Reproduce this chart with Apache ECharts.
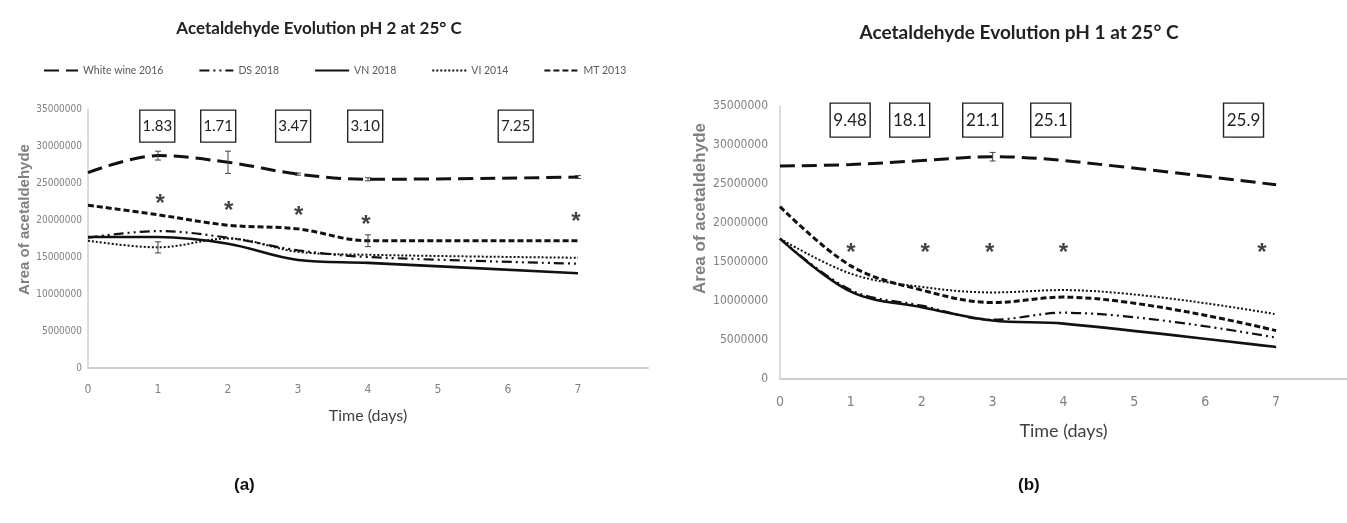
<!DOCTYPE html>
<html lang="en">
<head>
    <meta charset="UTF-8">
    <title>Acetaldehyde Evolution</title>
    <style>
        body { margin: 0; background: #fff; }
        #chart { width: 1347px; height: 523px; }
    </style>
    <script src="https://cdn.jsdelivr.net/npm/echarts@6/dist/echarts.min.js"></script>
</head>
<body>
<div id="chart"></div>
<script>
    // Sample days
    var days = [0, 1, 2, 3, 4, 7];
    var seriesNames = ['White wine 2016', 'DS 2018', 'VN 2018', 'VI 2014', 'MT 2013'];

    // (a) pH 2 at 25 C
    var phTwoWhite = [26400000, 28700000, 27800000, 26200000, 25500000, 25800000];
    var phTwoDS = [17600000, 18500000, 17600000, 15900000, 15000000, 14100000];
    var phTwoVN = [17700000, 17700000, 16800000, 14600000, 14200000, 12800000];
    var phTwoVI = [17200000, 16300000, 17500000, 15700000, 15300000, 14900000];
    var phTwoMT = [22000000, 20700000, 19300000, 18800000, 17200000, 17200000];
    var phTwoWhiteErr = [0, 600000, 1500000, 150000, 200000, 200000];
    var phTwoVIErr = [0, 750000, 0, 0, 0, 0];
    var phTwoMTErr = [0, 0, 0, 0, 800000, 0];

    // (b) pH 1 at 25 C
    var phOneWhite = [27300000, 27500000, 28000000, 28500000, 28000000, 24900000];
    var phOneDS = [18000000, 11400000, 9400000, 7600000, 8500000, 5300000];
    var phOneVN = [18000000, 11200000, 9200000, 7500000, 7100000, 4100000];
    var phOneVI = [18000000, 13500000, 11800000, 11100000, 11400000, 8300000];
    var phOneMT = [22100000, 14500000, 11400000, 9800000, 10500000, 6200000];
    var phOneWhiteErr = [0, 0, 0, 550000, 0, 0];

    // boxed annotations and significance marks
    var phTwoBoxDays = [0.99, 1.86, 2.93, 3.96, 6.11];
    var phTwoBoxText = ['1.83', '1.71', '3.47', '3.10', '7.25'];
    var phTwoBoxLevel = 32700000;
    var phTwoStarDays = [1.03, 2.01, 3.01, 3.97, 6.97];
    var phTwoStarLevels = [22800000, 21800000, 21200000, 19900000, 20300000];

    var phOneBoxDays = [0.99, 1.83, 2.86, 3.82, 6.54];
    var phOneBoxText = ['9.48', '18.1', '21.1', '25.1', '25.9'];
    var phOneBoxLevel = 33200000;
    var phOneStarDays = [1.0, 2.05, 2.96, 4.0, 6.8];
    var phOneStarLevels = [16700000, 16700000, 16700000, 16700000, 16700000];

    var NARROW = "'DejaVu Sans Condensed', sans-serif";
    var HUMAN = "Lato, 'Open Sans', sans-serif";

    var lineStyles = [
        { width: 3, type: [15, 7] },
        { width: 2.2, type: [10, 4, 2, 4, 2, 4] },
        { width: 2.6, type: 'solid' },
        { width: 2, type: [2, 2] },
        { width: 3, type: [6, 3] }
    ];

    function pairs(vals) {
        return days.map(function (d, i) { return [d, vals[i]]; });
    }

    function lineSeries(name, vals, idx, axis) {
        return {
            name: name,
            type: 'line',
            xAxisIndex: axis,
            yAxisIndex: axis,
            data: pairs(vals),
            smooth: 0.35,
            symbol: 'none',
            lineStyle: Object.assign({ color: '#111' }, lineStyles[idx]),
            itemStyle: { color: '#111' },
            z: 3
        };
    }

    function errSeries(vals, errs, axis) {
        var data = [];
        days.forEach(function (d, i) {
            if (errs[i] > 0) data.push([d, vals[i] - errs[i], vals[i] + errs[i]]);
        });
        return {
            type: 'custom',
            xAxisIndex: axis,
            yAxisIndex: axis,
            data: data,
            z: 4,
            renderItem: function (params, api) {
                var lo = api.coord([api.value(0), api.value(1)]);
                var hi = api.coord([api.value(0), api.value(2)]);
                var st = { stroke: '#444', lineWidth: 1 };
                return {
                    type: 'group',
                    children: [
                        { type: 'line', shape: { x1: lo[0], y1: lo[1], x2: hi[0], y2: hi[1] }, style: st },
                        { type: 'line', shape: { x1: lo[0] - 3, y1: lo[1], x2: lo[0] + 3, y2: lo[1] }, style: st },
                        { type: 'line', shape: { x1: hi[0] - 3, y1: hi[1], x2: hi[0] + 3, y2: hi[1] }, style: st }
                    ]
                };
            }
        };
    }

    function boxSeries(xs, texts, level, axis, size, fs) {
        return {
            type: 'scatter',
            xAxisIndex: axis,
            yAxisIndex: axis,
            data: xs.map(function (x) { return [x, level]; }),
            symbol: 'rect',
            symbolSize: size,
            itemStyle: { color: '#fff', borderColor: '#222', borderWidth: 1.3, opacity: 1 },
            label: {
                show: true,
                position: 'inside',
                color: '#222',
                fontFamily: HUMAN,
                fontSize: fs,
                formatter: function (p) { return texts[p.dataIndex]; }
            },
            z: 5
        };
    }

    function starSeries(xs, levels, axis) {
        return {
            type: 'scatter',
            xAxisIndex: axis,
            yAxisIndex: axis,
            data: xs.map(function (x, i) { return [x, levels[i]]; }),
            symbolSize: 1,
            itemStyle: { color: 'rgba(0,0,0,0)' },
            label: {
                show: true,
                position: 'inside',
                formatter: '*',
                color: '#111',
                fontSize: 24,
                fontWeight: 'bold',
                fontFamily: 'Liberation Sans',
                offset: [0, 5]
            },
            z: 5
        };
    }

    function xAxisCfg(idx, fs, nfs, gap, margin) {
        return {
            gridIndex: idx,
            type: 'value',
            min: 0,
            max: 8,
            interval: 1,
            name: 'Time (days)',
            nameLocation: 'middle',
            nameGap: gap,
            nameTextStyle: { color: '#404040', fontSize: nfs, fontFamily: HUMAN },
            axisLine: { lineStyle: { color: '#d0d0d0', width: 2 } },
            axisTick: { show: false },
            splitLine: { show: false },
            axisLabel: { color: '#808080', fontSize: fs, fontFamily: NARROW, margin: margin, showMaxLabel: false }
        };
    }

    function yAxisCfg(idx, fs, gap, margin, shift, nfs) {
        return {
            gridIndex: idx,
            type: 'value',
            min: 0,
            max: 35000000,
            interval: 5000000,
            name: 'Area of acetaldehyde',
            nameLocation: 'middle',
            nameGap: gap,
            nameTextStyle: {
                color: '#808080', fontSize: nfs, fontWeight: 'bold',
                fontFamily: 'Liberation Sans', padding: [0, 0, 0, shift]
            },
            axisLine: { show: true, lineStyle: { color: '#d0d0d0', width: 1.5 } },
            axisTick: { show: false },
            splitLine: { show: false },
            axisLabel: {
                color: '#808080', fontSize: fs, fontFamily: NARROW, margin: margin,
                formatter: function (v) { return String(v); }
            }
        };
    }

    var series = [];
    [phTwoWhite, phTwoDS, phTwoVN, phTwoVI, phTwoMT].forEach(function (v, i) {
        series.push(lineSeries(seriesNames[i], v, i, 0));
    });
    [phOneWhite, phOneDS, phOneVN, phOneVI, phOneMT].forEach(function (v, i) {
        series.push(lineSeries(seriesNames[i], v, i, 1));
    });
    series.push(errSeries(phTwoWhite, phTwoWhiteErr, 0));
    series.push(errSeries(phTwoVI, phTwoVIErr, 0));
    series.push(errSeries(phTwoMT, phTwoMTErr, 0));
    series.push(errSeries(phOneWhite, phOneWhiteErr, 1));
    series.push(boxSeries(phTwoBoxDays, phTwoBoxText, phTwoBoxLevel, 0, [35, 32], 15));
    series.push(boxSeries(phOneBoxDays, phOneBoxText, phOneBoxLevel, 1, [40, 34], 17));
    series.push(starSeries(phTwoStarDays, phTwoStarLevels, 0));
    series.push(starSeries(phOneStarDays, phOneStarLevels, 1));

    var option = {
        animation: false,
        backgroundColor: '#fff',
        title: [
            {
                text: 'Acetaldehyde Evolution pH 2 at 25° C',
                left: 314, top: 15, textAlign: 'center',
                textStyle: { fontFamily: HUMAN, fontSize: 17, fontWeight: 'bold', color: '#222' }
            },
            {
                text: 'Acetaldehyde Evolution pH 1 at 25° C',
                left: 1014, top: 18, textAlign: 'center',
                textStyle: { fontFamily: HUMAN, fontSize: 19, fontWeight: 'bold', color: '#222' }
            }
        ],
        legend: {
            data: seriesNames,
            left: 38,
            top: 60,
            itemWidth: 34,
            itemHeight: 14,
            itemGap: 35,
            itemStyle: { color: 'rgba(0,0,0,0)', borderWidth: 0 },
            textStyle: { color: '#595959', fontSize: 10.5, fontFamily: HUMAN }
        },
        grid: [
            { left: 88, top: 109, width: 560, height: 259 },
            { left: 780, top: 106, width: 614, height: 273 }
        ],
        xAxis: [xAxisCfg(0, 12, 16, 40, 16), xAxisCfg(1, 14, 18, 43, 16)],
        yAxis: [yAxisCfg(0, 10, 48, 6, 38, 15), yAxisCfg(1, 12, 67, 12, 68, 17)],
        graphic: [
            { type: 'text', left: 234, top: 477, style: { text: '(a)', font: 'bold 17px "Liberation Sans"', fill: '#111' } },
            { type: 'text', left: 1018, top: 477, style: { text: '(b)', font: 'bold 17px "Liberation Sans"', fill: '#111' } }
        ],
        series: series
    };

    var chart = echarts.init(document.getElementById('chart'));
    chart.setOption(option);
</script>
</body>
</html>
